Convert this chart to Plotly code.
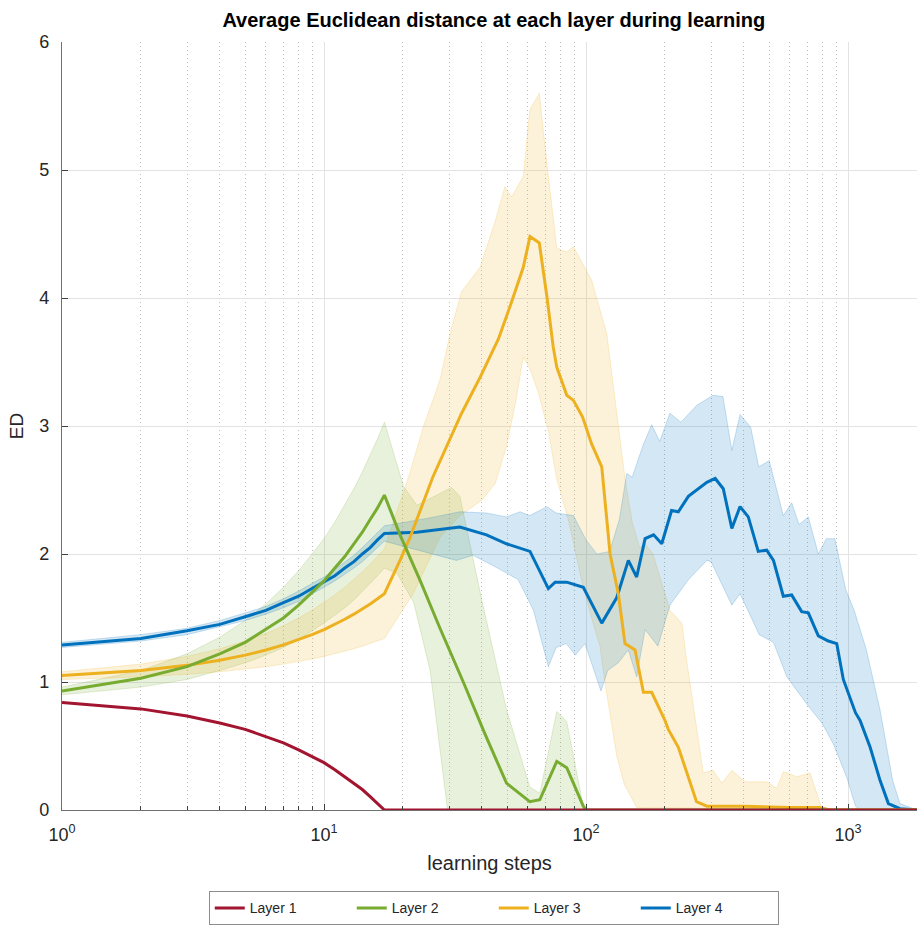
import plotly.graph_objects as go

# ---------------- data: learning step -> average Euclidean distance ----------------
early = list(range(1, 18))  # steps 1..17

l1_x = early + [1834]
l1_y = [0.84, 0.79, 0.735, 0.68, 0.63, 0.575, 0.525, 0.47, 0.42, 0.37, 0.315, 0.26,
        0.21, 0.16, 0.105, 0.05, 0.0, 0.0]

l2_x = early + [19.5, 23.3, 27.7, 34, 41, 49.7, 61, 66.6, 77.3, 84.4, 97.6, 100, 1834]
l2_y = [0.93, 1.03, 1.12, 1.22, 1.31, 1.41, 1.50, 1.60, 1.70, 1.79, 1.89, 1.98, 2.08,
        2.17, 2.27, 2.36, 2.46, 2.15, 1.79, 1.42, 1.0, 0.6, 0.21, 0.065, 0.08, 0.38,
        0.33, 0.03, 0.0, 0.0]
l2_hi_x = early + [20.1, 22.6, 30.7, 33, 40, 49.8, 61, 66.6, 77.3, 84.4, 97.6, 100]
l2_hi = [0.96, 1.09, 1.22, 1.35, 1.48, 1.61, 1.74, 1.87, 2.00, 2.12, 2.25, 2.38, 2.51,
         2.64, 2.77, 2.90, 3.03, 2.53, 2.38, 2.52, 2.45, 1.64, 0.78, 0.18, 0.13, 0.77,
         0.69, 0.03, 0.0]
l2_lo_x = early + [19, 22, 25.4, 29.6, 100]
l2_lo = [0.90, 0.96, 1.02, 1.09, 1.15, 1.21, 1.27, 1.33, 1.40, 1.46, 1.52, 1.58, 1.64,
         1.71, 1.77, 1.83, 1.89, 1.85, 1.62, 1.09, 0.0, 0.0]

l3_x = early + [19.5, 21.3, 26, 29.4, 33.5, 39.4, 46.3, 52, 57.6, 61.1, 66.3, 70.9, 74.9,
                77.3, 84.4, 89.5, 97, 105, 114.8, 123.5, 132.8, 140.8, 153.8, 165.5, 178,
                200, 206, 225, 264, 289, 400, 600, 782, 850, 1834]
l3_y = [1.05, 1.09, 1.13, 1.17, 1.21, 1.25, 1.29, 1.33, 1.37, 1.41, 1.45, 1.49, 1.53,
        1.57, 1.61, 1.65, 1.69, 1.95, 2.13, 2.6, 2.84, 3.1, 3.38, 3.68, 3.97, 4.24, 4.48,
        4.43, 4.01, 3.62, 3.46, 3.24, 3.2, 3.07, 2.86, 2.68, 2.0, 1.69, 1.30, 1.25, 0.92,
        0.92, 0.70, 0.63, 0.49, 0.065, 0.03, 0.03, 0.02, 0.02, 0.0, 0.0]
l3_hi_x = early + [21, 24, 27.7, 30.5, 33.5, 39.4, 45, 49, 52, 57.6, 61, 66.3, 70.9, 77.3,
                   84.3, 89.5, 105, 120, 141, 150, 160, 168, 180, 209, 232, 242, 280, 305,
                   330, 360, 405, 489, 534, 566, 637, 716, 782, 800]
l3_hi = [1.08, 1.14, 1.20, 1.26, 1.32, 1.38, 1.44, 1.50, 1.56, 1.62, 1.68, 1.74, 1.80,
         1.86, 1.92, 1.98, 2.04, 2.6, 3.0, 3.36, 3.75, 4.05, 4.24, 4.6, 4.87, 4.79, 4.95,
         5.47, 5.6, 5.05, 4.39, 4.36, 4.40, 4.14, 3.72, 2.58, 2.25, 2.05, 2.08, 2.0, 1.56,
         1.46, 1.17, 0.29, 0.31, 0.21, 0.31, 0.22, 0.22, 0.17, 0.30, 0.26, 0.29, 0.05, 0.0]
l3_lo_x = early + [21.9, 27.7, 33, 40, 45, 49.7, 54, 57.6, 61, 66, 72, 77, 86, 96, 105,
                   113, 119, 124, 131, 140, 156, 800]
l3_lo = [1.02, 1.04, 1.06, 1.08, 1.10, 1.12, 1.14, 1.16, 1.18, 1.20, 1.22, 1.24, 1.26,
         1.28, 1.30, 1.32, 1.34, 1.69, 2.13, 2.3, 2.42, 2.55, 2.84, 3.2, 3.54, 3.45, 3.25,
         2.95, 2.6, 2.25, 1.8, 1.5, 1.28, 0.95, 0.72, 0.42, 0.2, 0.02, 0.0]

l4_x = early + [22.6, 33, 41.7, 49.7, 61.1, 71.8, 76.2, 84.4, 97.6, 114.8, 131, 145, 156,
                168, 181, 194.5, 212, 225, 245.7, 289, 311, 334, 360, 387, 416, 454, 489,
                519, 566, 609, 665, 705, 770, 841, 905, 959, 1067, 1111, 1214, 1325, 1425,
                1578, 1834]
l4_y = [1.29, 1.34, 1.40, 1.45, 1.51, 1.56, 1.62, 1.67, 1.73, 1.78, 1.83, 1.89, 1.94,
        2.0, 2.05, 2.11, 2.16, 2.17, 2.21, 2.15, 2.08, 2.02, 1.73, 1.78, 1.78, 1.74, 1.46,
        1.66, 1.95, 1.82, 2.12, 2.15, 2.08, 2.34, 2.33, 2.45, 2.56, 2.59, 2.51, 2.20,
        2.37, 2.29, 2.02, 2.03, 1.95, 1.67, 1.68, 1.55, 1.54, 1.36, 1.32, 1.30, 1.02,
        0.76, 0.70, 0.49, 0.23, 0.05, 0.01, 0.0]
l4_hi_x = early + [25, 33, 41.7, 49.7, 56, 61, 70.9, 77, 89.5, 100, 110, 123, 134, 143,
                   150, 165, 178, 191, 209, 230, 264, 305, 333, 360, 387, 425, 456, 500,
                   566, 609, 650, 705, 770, 826, 890, 980, 1055, 1175, 1325, 1480, 1578,
                   1834]
l4_hi = [1.31, 1.37, 1.42, 1.48, 1.54, 1.59, 1.65, 1.71, 1.77, 1.82, 1.88, 1.94, 1.99,
         2.05, 2.11, 2.16, 2.22, 2.28, 2.33, 2.32, 2.29, 2.33, 2.30, 2.37, 2.32, 2.30,
         2.11, 2.0, 2.02, 2.27, 2.63, 2.60, 2.85, 3.01, 2.88, 3.10, 3.03, 3.16, 3.24,
         3.23, 2.81, 3.09, 2.99, 2.68, 2.73, 2.30, 2.40, 2.23, 2.29, 2.0, 2.12, 2.12,
         1.72, 1.56, 1.25, 0.78, 0.23, 0.05, 0.0]
l4_lo_x = early + [32, 37, 45, 55, 63, 71.8, 77, 84, 91, 99, 114, 121, 132.8, 145, 156,
                   168, 188, 209, 246, 289, 300, 360, 387, 458, 519, 584, 700, 794, 877,
                   990, 1067, 1120, 1834]
l4_lo = [1.27, 1.32, 1.37, 1.43, 1.48, 1.53, 1.58, 1.63, 1.69, 1.74, 1.79, 1.84, 1.89,
         1.94, 2.0, 2.05, 2.10, 1.95, 1.99, 1.9, 1.8, 1.56, 1.12, 1.27, 1.30, 1.21, 1.30,
         0.93, 1.09, 1.15, 1.25, 1.04, 1.41, 1.28, 1.60, 1.80, 1.95, 1.94, 1.60, 1.69,
         1.37, 1.31, 1.04, 0.82, 0.68, 0.52, 0.25, 0.03, 0.0, 0.0]

names = ["Layer 1", "Layer 2", "Layer 3", "Layer 4"]
rgb = [(162, 20, 47), (119, 172, 48), (237, 177, 32), (0, 114, 189)]

series = [
    (l1_x, l1_y, None),
    (l2_x, l2_y, (l2_hi_x, l2_hi, l2_lo_x, l2_lo)),
    (l3_x, l3_y, (l3_hi_x, l3_hi, l3_lo_x, l3_lo)),
    (l4_x, l4_y, (l4_hi_x, l4_hi, l4_lo_x, l4_lo)),
]

FONT = "Liberation Sans, Arial, Helvetica, sans-serif"
TXT = "#262626"

fig = go.Figure()

# shaded spread bands (drawn first, under every line)
for (x, y, band), (r, g, b) in zip(series, rgb):
    if band is None:
        continue
    hx, hy, lx, ly = band
    fig.add_trace(go.Scatter(
        x=list(hx) + list(lx)[::-1], y=list(hy) + list(ly)[::-1],
        mode="lines", fill="toself",
        fillcolor=f"rgba({r},{g},{b},0.17)",
        line=dict(color=f"rgba({r},{g},{b},0.25)", width=0.8),
        hoverinfo="skip", showlegend=False))

# mean lines, Layer 1 drawn last so it sits on top
for i in [3, 2, 1, 0]:
    x, y, _ = series[i]
    r, g, b = rgb[i]
    fig.add_trace(go.Scatter(
        x=x, y=y, mode="lines", name=names[i], legendrank=i + 1,
        line=dict(color=f"rgb({r},{g},{b})", width=3)))

minor_vals = [m * 10 ** d for d in range(3) for m in range(2, 10)]

fig.update_layout(
    width=917, height=927,
    margin=dict(l=62, r=0, t=42, b=117, autoexpand=False),
    paper_bgcolor="white", plot_bgcolor="white",
    font=dict(family=FONT, color=TXT, size=16),
    title=dict(text="<b>Average Euclidean distance at each layer during learning</b>",
               x=0.505, xref="paper", xanchor="center",
               y=1 - 20 / 927, yref="container", yanchor="middle",
               font=dict(size=20, color="black", family=FONT)),
    showlegend=True,
    legend=dict(orientation="h", x=0.505, xanchor="center", y=-0.106, yanchor="top",
                bordercolor="#8c8c8c", borderwidth=1, bgcolor="white",
                entrywidth=97, entrywidthmode="pixels",
                font=dict(size=14, color=TXT), traceorder="normal"),
)

fig.update_xaxes(
    type="log", range=[0, 3.263],
    tickvals=[1, 10, 100, 1000],
    ticktext=["10<sup>0</sup>", "10<sup>1</sup>", "10<sup>2</sup>", "10<sup>3</sup>"],
    ticks="inside", ticklen=6, tickcolor="#404040", tickfont=dict(size=18, color=TXT),
    ticklabelstandoff=8,
    showline=True, linecolor="#707070", linewidth=1.2,
    showgrid=True, gridcolor="#e3e3e3", gridwidth=1, zeroline=False,
    minor=dict(tickvals=minor_vals, ticks="inside", ticklen=4, tickcolor="#404040",
               showgrid=True, gridcolor="#bdbdbd", griddash="1px,3px", gridwidth=1),
    title=dict(text="learning steps", font=dict(size=20, color=TXT), standoff=12),
)
fig.update_yaxes(
    range=[0, 6], dtick=1, tick0=0,
    ticks="inside", ticklen=6, tickcolor="#404040", tickfont=dict(size=18, color=TXT),
    ticklabelstandoff=8,
    showline=True, linecolor="#707070", linewidth=1.2,
    showgrid=True, gridcolor="#e3e3e3", gridwidth=1, zeroline=False,
    title=dict(text="ED", font=dict(size=19, color=TXT), standoff=10),
)

fig.write_html("out.html")
